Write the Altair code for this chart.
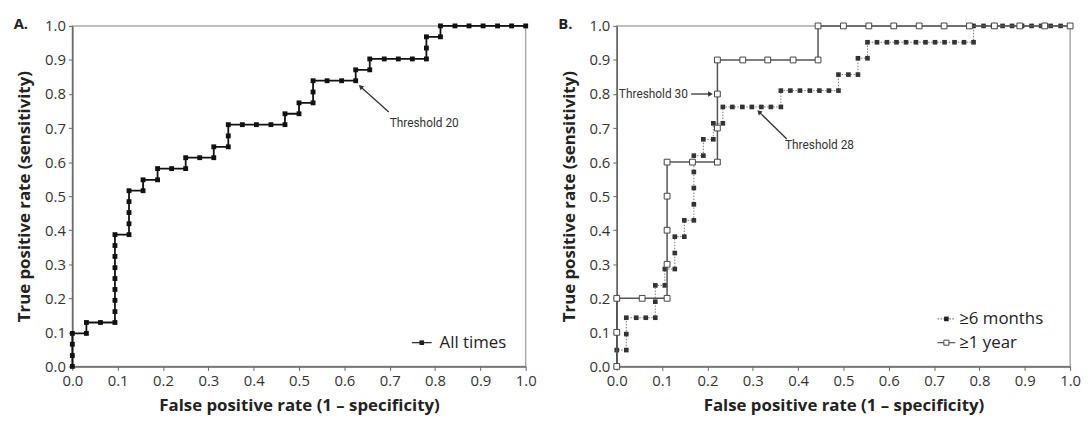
import altair as alt
import pandas as pd

# ---------------- data ----------------
A_FPR = [0, 0, 0, 0, .031, .031, .062, .094, .094, .094, .094, .094, .094, .094, .094, .094,
         .125, .125, .125, .125, .125, .156, .156, .188, .188, .219, .25, .25, .281, .312, .312,
         .344, .344, .344, .375, .406, .438, .469, .469, .5, .5, .531, .531, .531, .562, .594,
         .625, .625, .656, .656, .688, .719, .75, .781, .781, .781, .812, .812,
         .844, .875, .906, .938, .969, 1.0]
A_TPR = [0, .032, .065, .097, .097, .129, .129, .129, .161, .194, .226, .258, .290, .323, .355, .387,
         .387, .419, .452, .484, .516, .516, .548, .548, .581, .581, .581, .613, .613, .613, .645,
         .645, .677, .710, .710, .710, .710, .710, .742, .742, .774, .774, .806, .839, .839, .839,
         .839, .871, .871, .903, .903, .903, .903, .903, .935, .968, .968, 1.0,
         1.0, 1.0, 1.0, 1.0, 1.0, 1.0]

B6_FPR = [0, 0, .021, .021, .021, .043, .064, .085, .085, .085, .106, .106, .128, .128, .128,
          .149, .149, .170, .170, .170, .170, .170, .191, .191, .213, .213, .234, .234,
          .255, .277, .298, .319, .340, .362, .362, .383, .404, .426, .447, .468, .489, .489,
          .511, .532, .532, .553, .553, .574, .596, .617, .638, .660, .681, .702, .723, .745,
          .766, .787, .787, .809, .830, .851, .872, .894, .915, .936, .957, .979, 1.0]
B6_TPR = [0, .048, .048, .095, .143, .143, .143, .143, .190, .238, .238, .286, .286, .333, .381,
          .381, .429, .429, .476, .524, .571, .619, .619, .667, .667, .714, .714, .762,
          .762, .762, .762, .762, .762, .762, .810, .810, .810, .810, .810, .810, .810, .857,
          .857, .857, .905, .905, .952, .952, .952, .952, .952, .952, .952, .952, .952, .952,
          .952, .952, 1.0, 1.0, 1.0, 1.0, 1.0, 1.0, 1.0, 1.0, 1.0, 1.0, 1.0]

B1_FPR = [0, 0, 0, .056, .111, .111, .111, .111, .111, .167, .222, .222, .222, .222,
          .278, .333, .389, .444, .444, .5, .556, .611, .667, .722, .778, .833, .889, .944, 1.0]
B1_TPR = [0, .1, .2, .2, .2, .3, .4, .5, .6, .6, .6, .7, .8, .9,
          .9, .9, .9, .9, 1.0, 1.0, 1.0, 1.0, 1.0, 1.0, 1.0, 1.0, 1.0, 1.0, 1.0]

TICKS = [0.0, 0.1, 0.2, 0.3, 0.4, 0.5, 0.6, 0.7, 0.8, 0.9, 1.0]

# annotations: label, text x, text y, align, arrow tail x/y, arrow tip x/y, head angle
ANN_A_LABEL = ["Threshold 20"]
ANN_A_TX = [0.70]; ANN_A_TY = [0.714]; ANN_A_ALIGN = ["left"]
ANN_A_X1 = [0.698]; ANN_A_Y1 = [0.747]; ANN_A_X2 = [0.637]; ANN_A_Y2 = [0.820]; ANN_A_ANG = [312]

ANN_B_LABEL = ["Threshold 30", "Threshold 28"]
ANN_B_TX = [0.157, 0.371]; ANN_B_TY = [0.80, 0.649]; ANN_B_ALIGN = ["right", "left"]
ANN_B_X1 = [0.164, 0.375]; ANN_B_Y1 = [0.80, 0.668]
ANN_B_X2 = [0.205, 0.315]; ANN_B_Y2 = [0.80, 0.746]; ANN_B_ANG = [90, 314]

XTITLE = "False positive rate (1 \u2013 specificity)"
YTITLE = "True positive rate (sensitivity)"
FONT = "Open Sans"
NARROW = "Roboto"

W, H = 458, 344

SCALE = alt.Scale(domain=[0, 1], nice=False)
XAXIS = alt.Axis(values=TICKS, tickCount=11, format=".1f", title=XTITLE, labelFlush=False,
                 labelOverlap=False, labelPadding=3, titlePadding=10)
YAXIS = alt.Axis(values=TICKS, tickCount=11, format=".1f", title=YTITLE, labelFlush=False,
                 labelOverlap=False, labelPadding=3, titlePadding=11)


def ex(field):
    return alt.X(field, type="quantitative", scale=SCALE, axis=XAXIS)


def ey(field):
    return alt.Y(field, type="quantitative", scale=SCALE, axis=YAXIS)


def roc(fpr, tpr, line_kw, pt_kw):
    df = pd.DataFrame({"fpr": fpr, "tpr": tpr, "i": list(range(len(fpr)))})
    base = alt.Chart(df).encode(x=ex("fpr"), y=ey("tpr"), order="i:Q")
    return [base.mark_line(**line_kw), base.mark_point(**pt_kw)]


def annotations(labels, tx, ty, align, x1, y1, x2, y2, ang):
    layers = []
    for k in range(len(labels)):
        d = pd.DataFrame({"fpr": [tx[k]], "tpr": [ty[k]], "t": [labels[k]],
                          "x1": [x1[k]], "y1": [y1[k]], "x2": [x2[k]], "y2": [y2[k]]})
        layers.append(alt.Chart(d).mark_text(align=align[k], baseline="middle", font=NARROW,
                                             fontSize=12, color="#333")
                      .encode(x=ex("fpr"), y=ey("tpr"), text="t:N"))
        layers.append(alt.Chart(d).mark_rule(color="#333", strokeWidth=1.3)
                      .encode(x=ex("x1"), y=ey("y1"), x2="x2:Q", y2="y2:Q"))
        layers.append(alt.Chart(d).mark_point(shape="triangle", filled=True, color="#333",
                                              size=30, opacity=1, angle=ang[k])
                      .encode(x=ex("x2"), y=ey("y2")))
    return layers


def legend(rows):
    layers = []
    for (xl, lw, toff, y, label, filled, lcolor, dash) in rows:
        d = pd.DataFrame({"t": [label]})
        rule_kw = dict(color=lcolor, strokeWidth=1.2)
        if dash:
            rule_kw["strokeDash"] = [1.5, 1.5]
        layers.append(alt.Chart(d).mark_rule(**rule_kw)
                      .encode(x=alt.value(xl), x2=alt.value(xl + lw), y=alt.value(y)))
        if filled:
            pt = alt.Chart(d).mark_point(shape="square", filled=True, color="#222", size=22, opacity=1)
        else:
            pt = alt.Chart(d).mark_point(shape="square", filled=True, fill="white", stroke="#444",
                                         strokeWidth=1, size=26, opacity=1)
        layers.append(pt.encode(x=alt.value(xl + lw / 2), y=alt.value(y)))
        layers.append(alt.Chart(d).mark_text(align="left", baseline="middle", font=FONT,
                                             fontSize=17, color="#222")
                      .encode(x=alt.value(xl + toff), y=alt.value(y), text="t:N"))
    return layers


def panel_label(t):
    d = pd.DataFrame({"t": [t]})
    return alt.Chart(d).mark_text(align="center", baseline="middle", font=FONT, fontSize=15,
                                  fontWeight="bold", color="#222").encode(
        x=alt.value(-52), y=alt.value(-2), text="t:N")


# Panel A
pA = alt.layer(
    *roc(A_FPR, A_TPR,
         dict(color="#111", strokeWidth=1.8),
         dict(shape="square", filled=True, color="#111", size=24, opacity=1)),
    *annotations(ANN_A_LABEL, ANN_A_TX, ANN_A_TY, ANN_A_ALIGN, ANN_A_X1, ANN_A_Y1,
                 ANN_A_X2, ANN_A_Y2, ANN_A_ANG),
    *legend([(343, 20, 28, 320, "All times", True, "#222", False)]),
    panel_label("A."),
).properties(width=W, height=H)

# Panel B
pB = alt.layer(
    *roc(B6_FPR, B6_TPR,
         dict(color="#777", strokeWidth=1.0, strokeDash=[1.5, 1.5]),
         dict(shape="square", filled=True, color="#333", size=22, opacity=1)),
    *roc(B1_FPR, B1_TPR,
         dict(color="#555", strokeWidth=1.5),
         dict(shape="square", filled=True, fill="white", stroke="#444", strokeWidth=1,
              size=34, opacity=1)),
    *annotations(ANN_B_LABEL, ANN_B_TX, ANN_B_TY, ANN_B_ALIGN, ANN_B_X1, ANN_B_Y1,
                 ANN_B_X2, ANN_B_Y2, ANN_B_ANG),
    *legend([(324, 18, 22, 296, "\u22656 months", True, "#777", True),
             (324, 18, 22, 320, "\u22651 year", False, "#555", False)]),
    panel_label("B."),
).properties(width=W, height=H)

chart = alt.hconcat(pA, pB, spacing=20).properties(
    padding={"left": 4, "top": 6, "right": 0, "bottom": 0}
).configure_view(stroke="#aaa", strokeWidth=1.5).configure_axis(
    grid=False, labelFont=FONT, labelFontSize=15, labelColor="#333", labelOverlap=False,
    titleFont=FONT, titleFontSize=17, titleFontWeight="bold", titleColor="#222",
    domainColor="#666", domainWidth=1.5, tickColor="#666", tickSize=4, tickWidth=1
)

chart.save("out.html", embed_options={"renderer": "svg", "actions": False})
